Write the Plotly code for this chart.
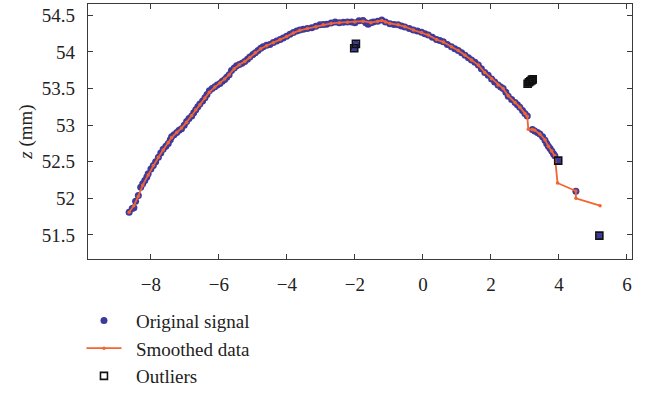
import plotly.graph_objects as go

# ---------------- data ----------------
orig_x = [-8.64, -8.55, -8.50, -8.45, -8.37, -8.30, -8.24, -8.18, -8.12, -8.08,
          -8.00, -7.93, -7.86, -7.78, -7.71, -7.64, -7.56, -7.49, -7.43, -7.39,
          -7.32, -7.24, -7.17, -7.10, -7.02, -6.95, -6.88, -6.80, -6.74, -6.68,
          -6.62, -6.56, -6.48, -6.41, -6.35, -6.28, -6.20, -6.12, -6.05, -5.97,
          -5.90, -5.83, -5.77, -5.70, -5.63, -5.55, -5.48, -5.40, -5.32, -5.24,
          -5.16, -5.09, -5.00, -4.93, -4.85, -4.77, -4.70, -4.60, -4.50, -4.40,
          -4.30, -4.20, -4.11, -4.01, -3.91, -3.81, -3.71, -3.62, -3.52, -3.40,
          -3.27, -3.15, -3.03, -2.93, -2.83, -2.70, -2.58, -2.46, -2.34, -2.22,
          -2.10, -2.00, -1.88, -1.76, -1.68, -1.61, -1.53, -1.46, -1.33, -1.21,
          -1.10, -0.97, -0.85, -0.73, -0.63, -0.53, -0.40, -0.28, -0.16, -0.04,
          0.06, 0.16, 0.28, 0.40, 0.50, 0.60, 0.72, 0.84, 0.94, 1.04,
          1.14, 1.24, 1.34, 1.43, 1.53, 1.63, 1.72, 1.82, 1.92, 2.02,
          2.11, 2.21, 2.29, 2.36, 2.44, 2.51, 2.61, 2.71, 2.78, 2.85,
          2.93, 3.00, 3.07, 3.22, 3.29, 3.37, 3.44, 3.52, 3.59, 3.64,
          3.69, 3.74, 3.79, 3.84, 3.88, 3.98, 4.50, 5.19,
          -1.97, -2.02, 3.08, 3.12, 3.16, 3.20, 3.23]
orig_y = [51.81, 51.86, 51.87, 51.96, 52.04, 52.15, 52.20, 52.245, 52.29, 52.335,
          52.40, 52.45, 52.50, 52.56, 52.62, 52.67, 52.71, 52.75, 52.80, 52.84,
          52.87, 52.90, 52.93, 52.95, 53.00, 53.05, 53.09, 53.125, 53.17, 53.21,
          53.25, 53.29, 53.33, 53.375, 53.42, 53.47, 53.50, 53.525, 53.55, 53.57,
          53.60, 53.625, 53.655, 53.69, 53.745, 53.78, 53.81, 53.83, 53.845, 53.87,
          53.90, 53.93, 53.965, 53.99, 54.02, 54.05, 54.07, 54.09, 54.10, 54.13,
          54.15, 54.17, 54.19, 54.215, 54.24, 54.265, 54.285, 54.30, 54.31, 54.32,
          54.33, 54.35, 54.37, 54.375, 54.38, 54.395, 54.41, 54.40, 54.405, 54.41,
          54.41, 54.40, 54.425, 54.43, 54.40, 54.38, 54.40, 54.41, 54.42, 54.435,
          54.41, 54.385, 54.375, 54.37, 54.355, 54.34, 54.32, 54.30, 54.285, 54.27,
          54.25, 54.23, 54.20, 54.17, 54.155, 54.14, 54.10, 54.07, 54.045, 54.02,
          53.99, 53.955, 53.92, 53.89, 53.86, 53.82, 53.77, 53.72, 53.68, 53.63,
          53.59, 53.55, 53.52, 53.50, 53.45, 53.395, 53.35, 53.31, 53.28, 53.245,
          53.20, 53.16, 53.125, 52.94, 52.92, 52.90, 52.88, 52.84, 52.795, 52.75,
          52.71, 52.68, 52.645, 52.61, 52.58, 52.515, 52.095, 51.49,
          54.11, 54.05, 53.565, 53.585, 53.60, 53.615, 53.625]

smooth_x = [-8.64, -8.50, -8.37, -8.24, -8.08, -7.93, -7.78, -7.64, -7.49, -7.39,
            -7.24, -7.10, -6.95, -6.80, -6.68, -6.56, -6.41, -6.28, -6.12, -5.97,
            -5.83, -5.70, -5.55, -5.40, -5.24, -5.09, -4.93, -4.77, -4.60, -4.40,
            -4.20, -4.01, -3.81, -3.62, -3.40, -3.15, -2.93, -2.70, -2.46, -2.22,
            -2.00, -1.76, -1.53, -1.33, -1.21, -1.10, -0.97, -0.73, -0.53, -0.28,
            -0.04, 0.16, 0.40, 0.60, 0.84, 1.04, 1.24, 1.43, 1.63, 1.82,
            2.02, 2.21, 2.36, 2.51, 2.71, 2.85, 3.00, 3.07, 3.10, 3.22,
            3.29, 3.44, 3.59, 3.69, 3.79, 3.88, 3.96, 4.50, 4.50, 5.21]
smooth_y = [51.81, 51.90, 52.03, 52.18, 52.32, 52.45, 52.56, 52.66, 52.76, 52.83,
            52.90, 52.96, 53.04, 53.13, 53.21, 53.28, 53.37, 53.45, 53.52, 53.575,
            53.63, 53.69, 53.77, 53.825, 53.87, 53.925, 53.99, 54.045, 54.085, 54.125,
            54.17, 54.21, 54.26, 54.295, 54.32, 54.345, 54.37, 54.39, 54.40, 54.405,
            54.41, 54.42, 54.40, 54.415, 54.43, 54.41, 54.39, 54.37, 54.345, 54.30,
            54.265, 54.23, 54.17, 54.135, 54.07, 54.02, 53.955, 53.89, 53.82, 53.72,
            53.635, 53.55, 53.50, 53.40, 53.31, 53.245, 53.16, 53.12, 52.945, 52.94,
            52.93, 52.88, 52.80, 52.71, 52.645, 52.58, 52.21, 52.10, 52.00, 51.90]

outlier_x = [-1.97, -2.02, 3.08, 3.12, 3.16, 3.20, 3.23, 3.98, 5.19]
outlier_y = [54.11, 54.05, 53.565, 53.585, 53.60, 53.615, 53.625, 52.515, 51.49]

x_ticks = [-8, -6, -4, -2, 0, 2, 4, 6]
y_ticks = [51.5, 52, 52.5, 53, 53.5, 54, 54.5]
x_tick_text = ["\u22128", "\u22126", "\u22124", "\u22122", "0", "2", "4", "6"]
y_tick_text = ["51.5", "52", "52.5", "53", "53.5", "54", "54.5"]

legend_names = ["Original signal", "Smoothed data", "Outliers"]
PAD = "\u00a0\u00a0"

FONT = "Liberation Serif"
AX = "#3a3a3a"

fig = go.Figure()
fig.add_trace(go.Scatter(
    x=orig_x, y=orig_y, mode="markers", name=PAD + legend_names[0],
    marker=dict(color="#3d3a9c", size=7, line=dict(width=0)),
))
fig.add_trace(go.Scatter(
    x=smooth_x, y=smooth_y, mode="lines+markers", name=PAD + legend_names[1],
    line=dict(color="#f26430", width=1.8),
    marker=dict(color="#f26430", size=3.5),
))
fig.add_trace(go.Scatter(
    x=outlier_x, y=outlier_y, mode="markers", name=PAD + legend_names[2],
    marker=dict(symbol="square-open", color="#111111", size=7, line=dict(width=1.6)),
))

axis_common = dict(
    showline=True, linecolor=AX, linewidth=1.2, mirror="ticks",
    ticks="inside", ticklen=5, tickwidth=1.2, tickcolor=AX,
    showgrid=False, zeroline=False,
    tickfont=dict(family=FONT, size=19, color="#222222"),
)

fig.update_layout(
    width=648, height=400,
    margin=dict(l=88, r=16, t=4, b=126),
    paper_bgcolor="white", plot_bgcolor="white",
    font=dict(family=FONT, size=19, color="#222222"),
    xaxis=dict(range=[-9.85, 6.15], tickvals=x_ticks, ticktext=x_tick_text,
               ticklabelstandoff=8, **axis_common),
    yaxis=dict(range=[51.171, 54.655], tickvals=y_ticks, ticktext=y_tick_text,
               ticklabelstandoff=8,
               title=dict(text="<i>z</i> (mm)", standoff=4,
                          font=dict(family=FONT, size=19, color="#222222")),
               **axis_common),
    showlegend=True,
    legend=dict(x=-0.012, y=-0.167, xanchor="left", yanchor="top",
                orientation="v", bgcolor="rgba(0,0,0,0)", borderwidth=0,
                font=dict(family=FONT, size=19, color="#222222"),
                itemwidth=35, tracegroupgap=0),
)

fig.write_html("out.html")
